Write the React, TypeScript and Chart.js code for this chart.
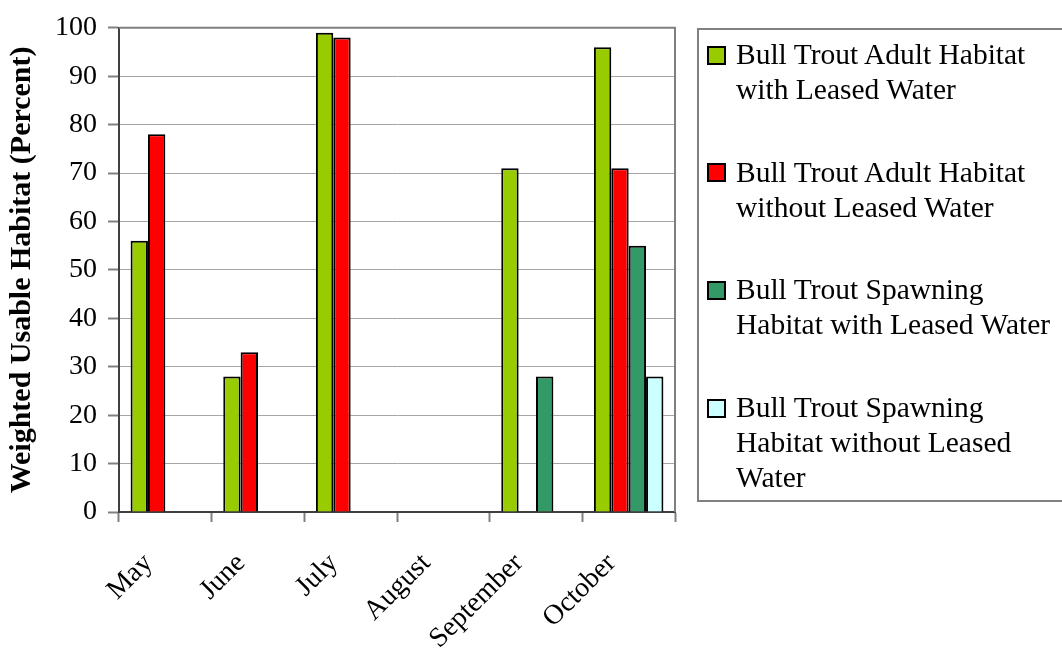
import React, { useEffect, useRef } from "react";
import { Chart, registerables } from "chart.js";

Chart.register(...registerables);

const categories = ["May", "June", "July", "August", "September", "October"];
const adultWithLeased = [56, 28, 99, null, 71, 96];
const adultWithoutLeased = [78, 33, 98, null, null, 71];
const spawningWithLeased = [null, null, null, null, 28, 55];
const spawningWithoutLeased = [null, null, null, null, null, 28];
const seriesNames = [
  "Bull Trout Adult Habitat with Leased Water",
  "Bull Trout Adult Habitat without Leased Water",
  "Bull Trout Spawning Habitat with Leased Water",
  "Bull Trout Spawning Habitat without Leased Water",
];
const legendLines = [
  ["Bull Trout Adult Habitat", "with Leased Water"],
  ["Bull Trout Adult Habitat", "without Leased Water"],
  ["Bull Trout Spawning", "Habitat with Leased Water"],
  ["Bull Trout Spawning", "Habitat without Leased", "Water"],
];
const seriesColors = ["#99CC00", "#FF0000", "#339966", "#CCFFFF"];
const yTitle = "Weighted Usable Habitat (Percent)";
const yMin = 0;
const yMax = 100;
const yStep = 10;

const FONT = "'Liberation Serif', 'Times New Roman', serif";

const plotBorder = {
  id: "plotBorder",
  beforeDatasetsDraw(chart: any) {
    const { ctx, chartArea } = chart;
    const { left, top, right, bottom } = chartArea;
    ctx.save();
    ctx.strokeStyle = "#808080";
    ctx.lineWidth = 2;
    ctx.beginPath();
    ctx.moveTo(left, top);
    ctx.lineTo(right, top);
    ctx.lineTo(right, bottom);
    ctx.stroke();
    ctx.restore();
  },
};

export default function App() {
  const canvasRef = useRef<HTMLCanvasElement | null>(null);

  useEffect(() => {
    const canvas = canvasRef.current;
    if (!canvas) return;
    const seriesData = [adultWithLeased, adultWithoutLeased, spawningWithLeased, spawningWithoutLeased];
    const chart = new Chart(canvas, {
      type: "bar",
      data: {
        labels: categories,
        datasets: seriesData.map((d, i) => ({
          label: seriesNames[i],
          data: d,
          backgroundColor: seriesColors[i],
          borderColor: "#000000",
          borderWidth: 2,
          categoryPercentage: 0.75,
          barPercentage: 1,
        })),
      },
      options: {
        responsive: false,
        animation: false,
        layout: { padding: { top: 17, right: 387, left: 0, bottom: 0 } },
        plugins: {
          legend: { display: false },
          tooltip: { enabled: false },
        },
        scales: {
          x: {
            offset: true,
            grid: {
              offset: true,
              drawOnChartArea: false,
              tickLength: 10,
              tickColor: "#808080",
              tickWidth: 2,
            },
            border: { color: "#404040", width: 2 },
            ticks: {
              font: { family: FONT, size: 28 },
              color: "#000000",
              maxRotation: 45,
              minRotation: 45,
              autoSkip: false,
              padding: 25,
              labelOffset: -17,
            },
            afterFit: (s: any) => {
              s.height = 146;
            },
          },
          y: {
            min: yMin,
            max: yMax,
            ticks: {
              stepSize: yStep,
              font: { family: FONT, size: 28 },
              color: "#000000",
              padding: 11,
            },
            grid: {
              color: "#a6a6a6",
              lineWidth: 1,
              tickLength: 11,
              tickColor: "#808080",
              tickWidth: 2,
            },
            border: { color: "#404040", width: 2 },
            title: {
              display: true,
              text: yTitle,
              font: { family: FONT, size: 30, weight: "bold" },
              color: "#000000",
            },
            afterFit: (s: any) => {
              s.width = 119;
            },
          },
        },
      },
      plugins: [plotBorder],
    } as any);
    return () => chart.destroy();
  }, []);

  const itemTop = (i: number) => 38 + i * 117.7;

  return (
    <div
      style={{
        position: "fixed",
        left: 0,
        top: 0,
        width: 1062,
        height: 658,
        overflow: "hidden",
        background: "#ffffff",
      }}
    >
      <canvas ref={canvasRef} width={1062} height={658} style={{ position: "absolute", left: 0, top: 0 }} />
      <div
        style={{
          position: "absolute",
          left: 697,
          top: 28,
          width: 420,
          height: 474,
          border: "2px solid #808080",
          boxSizing: "border-box",
        }}
      />
      {legendLines.map((lines, i) => (
        <React.Fragment key={i}>
          <div
            style={{
              position: "absolute",
              left: 707,
              top: itemTop(i) + 7.7,
              width: 19,
              height: 19,
              boxSizing: "border-box",
              border: "2px solid #000000",
              background: seriesColors[i],
            }}
          />
          <div
            style={{
              position: "absolute",
              left: 736,
              top: itemTop(i) - 1,
              fontFamily: FONT,
              fontSize: 29.5,
              lineHeight: "35px",
              color: "#000000",
              whiteSpace: "pre",
            }}
          >
            {lines.join("\n")}
          </div>
        </React.Fragment>
      ))}
    </div>
  );
}
